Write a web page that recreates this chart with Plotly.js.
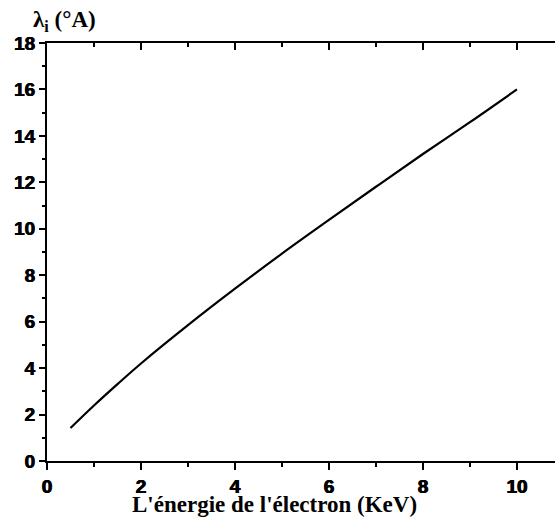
<!DOCTYPE html>
<html>
<head>
<meta charset="utf-8">
<script src="https://cdn.plot.ly/plotly-3.0.1.min.js"></script>
<style>html,body{margin:0;padding:0;background:#fff;}</style>
</head>
<body>
<div id="chart" style="width:555px;height:526px;"></div>
<script>
// Electron energy (KeV)
const energy = [0.5, 1.0, 1.5, 2.0, 3.0, 4.0, 5.0, 6.0, 7.0, 8.0, 9.0, 10.0];
// Inelastic mean free path lambda_i (°A)
const lambdaI = [1.42, 2.39, 3.31, 4.20, 5.85, 7.42, 8.93, 10.38, 11.81, 13.22, 14.59, 16.0];
const xTickVals = [0, 2, 4, 6, 8, 10];
const yTickVals = [0, 2, 4, 6, 8, 10, 12, 14, 16, 18];

const tickFont = {family: 'Liberation Sans', size: 19, color: '#000', weight: 'bold', shadow: '0.5px 0 0 #000, -0.4px 0 0 #000'};
const serifFont = {family: 'Liberation Serif', size: 23, color: '#000', weight: 'bold'};

const traces = [
  {x: energy, y: lambdaI, type: 'scatter', mode: 'lines', line: {color: '#000', width: 2.2, shape: 'spline'}, hoverinfo: 'skip', xaxis: 'x', yaxis: 'y'},
  {x: energy, y: lambdaI, type: 'scatter', mode: 'lines', line: {color: '#000', width: 2.2, shape: 'spline'}, opacity: 0, hoverinfo: 'skip', xaxis: 'x2', yaxis: 'y'}
];

const xr = [0, 10.81];
const layout = {
  width: 555, height: 526,
  margin: {l: 47, r: 0, t: 43, b: 65},
  paper_bgcolor: '#fff', plot_bgcolor: '#fff',
  showlegend: false,
  xaxis: {
    range: xr, tickvals: xTickVals, ticktext: xTickVals.map(String),
    ticks: 'outside', ticklen: 7, tickwidth: 2, tickcolor: '#000',
    minor: {dtick: 1, ticks: 'outside', ticklen: 4, tickwidth: 2, tickcolor: '#000', showgrid: false},
    showline: true, linecolor: '#000', linewidth: 2,
    showgrid: false, zeroline: false, tickfont: tickFont, fixedrange: true
  },
  xaxis2: {
    range: xr, overlaying: 'x', side: 'top', anchor: 'y',
    tickvals: xTickVals, showticklabels: false,
    ticks: 'inside', ticklen: 7, tickwidth: 2, tickcolor: '#000',
    minor: {dtick: 1, ticks: 'inside', ticklen: 4, tickwidth: 2, tickcolor: '#000', showgrid: false},
    showline: true, linecolor: '#000', linewidth: 2,
    showgrid: false, zeroline: false, fixedrange: true
  },
  yaxis: {
    range: [0, 18], tickvals: yTickVals, ticktext: yTickVals.map(String),
    ticks: 'outside', ticklen: 6, tickwidth: 2, tickcolor: '#000',
    minor: {dtick: 1, ticks: 'outside', ticklen: 3, tickwidth: 2, tickcolor: '#000', showgrid: false},
    showline: true, linecolor: '#000', linewidth: 2,
    showgrid: false, zeroline: false, tickfont: tickFont, fixedrange: true
  },
  annotations: [
    {text: "<b>L'énergie de l'électron (KeV)</b>", xref: 'paper', yref: 'paper', x: (274 - 47) / 508, y: -(505 - 461) / 418,
     xanchor: 'center', yanchor: 'middle', showarrow: false, font: serifFont},
    {text: '<b>λ<sub>i</sub> (°A)</b>', xref: 'paper', yref: 'paper', x: -(47 - 31) / 508, y: 1 + (43 - 21) / 418,
     xanchor: 'left', yanchor: 'middle', showarrow: false, font: serifFont}
  ]
};

Plotly.newPlot('chart', traces, layout, {displayModeBar: false, staticPlot: true});
</script>
</body>
</html>
